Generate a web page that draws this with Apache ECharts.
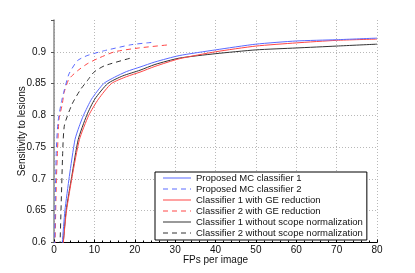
<!DOCTYPE html>
<html><head><meta charset="utf-8">
<script src="https://cdn.jsdelivr.net/npm/echarts@6/dist/echarts.min.js"></script>
<style>html,body{margin:0;padding:0;background:#fff}#c{width:415px;height:273px}</style>
</head><body><div id="c"></div>
<script>
// Series data (x = FPs per image, y = sensitivity)
const mc1X = [1.7, 2.05, 2.7, 3.8, 5.2, 6.2, 7.3, 9.3, 12.3, 15, 18, 21.3, 25, 31, 40, 50, 60, 70, 80];
const mc1Y = [0.58, 0.6, 0.65, 0.704, 0.762, 0.782, 0.8, 0.8255, 0.85, 0.86, 0.869, 0.876, 0.884, 0.894, 0.903, 0.912, 0.917, 0.919, 0.9215];
const mc2X = [0.1, 0.4, 0.6, 1.0, 1.8, 2.6, 3.7, 5.8, 8.2, 12, 14, 19, 23, 25];
const mc2Y = [0.58, 0.7, 0.75, 0.79, 0.82, 0.841, 0.865, 0.886, 0.894, 0.901, 0.904, 0.911, 0.914, 0.915];
const ge1X = [2.0, 2.3, 3.1, 4.5, 6.3, 8.6, 11.0, 14.2, 18, 21.3, 25, 31, 40, 50, 60, 70, 80];
const ge1Y = [0.58, 0.6, 0.65, 0.704, 0.762, 0.8, 0.8255, 0.85, 0.861, 0.868, 0.877, 0.889, 0.9, 0.909, 0.914, 0.918, 0.92];
const ge2X = [0.2, 0.6, 0.9, 1.24, 2.05, 2.5, 3.7, 5.8, 8.2, 10.7, 15, 21, 28.5];
const ge2Y = [0.58, 0.7, 0.75, 0.794, 0.8176, 0.836, 0.857, 0.87, 0.881, 0.889, 0.9, 0.906, 0.911];
const ns1X = [2.0, 2.3, 3.0, 4.4, 6.0, 8.1, 10.1, 13.3, 17, 21.3, 25, 31, 40, 50, 60, 70, 80];
const ns1Y = [0.58, 0.6, 0.65, 0.704, 0.762, 0.8, 0.8255, 0.85, 0.862, 0.871, 0.88, 0.89, 0.897, 0.903, 0.906, 0.909, 0.912];
const ns2X = [1.3, 1.5, 2.2, 2.6, 4.5, 6.6, 8.2, 9.9, 12.5, 19.5];
const ns2Y = [0.58, 0.6, 0.75, 0.785, 0.818, 0.841, 0.854, 0.868, 0.878, 0.891];
// Axis ticks
const xTicks = [0, 10, 20, 30, 40, 50, 60, 70, 80];
const yTicks = [0.6, 0.65, 0.7, 0.75, 0.8, 0.85, 0.9, 0.95];
const names = ['Proposed MC classifier 1', 'Proposed MC classifier 2', 'Classifier 1 with GE reduction',
  'Classifier 2 with GE reduction', 'Classifier 1 without scope normalization', 'Classifier 2 without scope normalization'];

const BLUE = '#5a6aff', RED = '#ff4646', BLACK = '#333333';
const zip = (xs, ys) => xs.map((x, i) => [x, ys[i]]);
const defs = [
  [mc1X, mc1Y, BLUE, 'solid'], [mc2X, mc2Y, BLUE, [5, 4]],
  [ge1X, ge1Y, RED, 'solid'], [ge2X, ge2Y, RED, [5, 4]],
  [ns1X, ns1Y, BLACK, 'solid'], [ns2X, ns2Y, BLACK, [5, 4]]
];
const series = defs.map((d, i) => ({
  name: names[i], type: 'line', data: zip(d[0], d[1]), symbol: 'none', showSymbol: false,
  clip: true, z: 10 - i, smooth: 0.2,
  lineStyle: { color: d[2], width: 1, type: d[3] }, itemStyle: { color: d[2] }
}));
const gridColors = yTicks.map((v, i) => i === yTicks.length - 1 ? 'rgba(0,0,0,0)' : '#b8b8b8');
const FONT = 'Liberation Sans, Arial, sans-serif';
const chart = echarts.init(document.getElementById('c'), null, { renderer: 'canvas' });
chart.setOption({
  animation: false,
  backgroundColor: '#fff',
  grid: { left: 54, right: 38, top: 20, bottom: 30.5, containLabel: false },
  xAxis: {
    type: 'value', min: xTicks[0], max: xTicks[xTicks.length - 1], interval: 10,
    name: 'FPs per image', nameLocation: 'middle', nameGap: 13, nameMoveOverlap: false,
    nameTextStyle: { fontSize: 10, color: '#111', fontFamily: FONT },
    axisLine: { show: true, lineStyle: { color: '#000', width: 1 } },
    axisTick: { show: true, inside: true, length: 3, lineStyle: { color: '#000' } },
    minorTick: { show: true, splitNumber: 5, length: 2, lineStyle: { color: '#000' } },
    axisLabel: { fontSize: 10, color: '#111', margin: 3, fontFamily: FONT },
    splitLine: { show: true, lineStyle: { color: '#b8b8b8', type: [1, 2], width: 1 } }
  },
  yAxis: {
    type: 'value', min: yTicks[0], max: yTicks[yTicks.length - 1], interval: 0.05,
    name: 'Sensitivity to lesions', nameLocation: 'middle', nameGap: 27, nameMoveOverlap: false,
    nameTextStyle: { fontSize: 10, color: '#111', fontFamily: FONT },
    axisLine: { show: true, lineStyle: { color: '#8a8a8a', width: 1.5 } },
    axisTick: { show: true, inside: false, length: 3, lineStyle: { color: '#555' } },
    axisLabel: { fontSize: 10, color: '#111', margin: 8, fontFamily: FONT,
      formatter: v => (Math.abs(v - 0.95) < 1e-6 ? '' : String(+v.toFixed(2))) },
    splitLine: { show: true, lineStyle: { color: gridColors, type: [1, 2], width: 1 } }
  },
  legend: {
    orient: 'vertical', left: 155, top: 172,
    padding: [1, 4, 2, 7], itemGap: 1, itemWidth: 28, itemHeight: 9,
    borderColor: '#000', borderWidth: 1, backgroundColor: '#fff',
    itemStyle: { opacity: 0, borderWidth: 0 },
    textStyle: { fontSize: 9.5, color: '#111', fontFamily: FONT, lineHeight: 10 },
    data: names.map((n, i) => (i % 2 === 0
      ? { name: n, lineStyle: { width: 2, opacity: 0.5 } }
      : { name: n, lineStyle: { width: 1 } }))
  },
  series: series
});
</script></body></html>
